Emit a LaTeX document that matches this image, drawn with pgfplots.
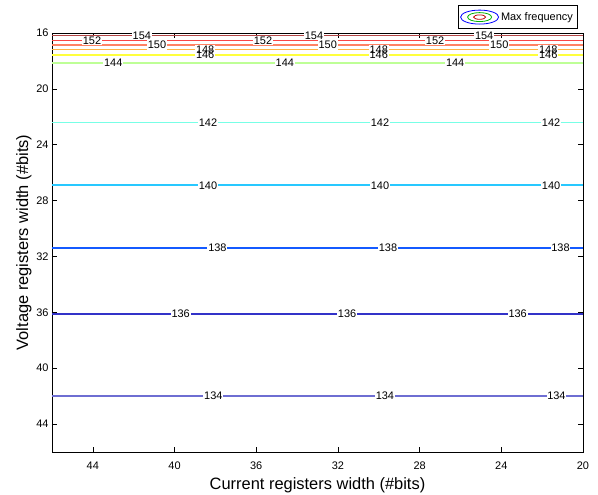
\documentclass[border=0pt]{standalone}
\usepackage{fontspec}
\setmainfont{Liberation Sans}
\usepackage{pgfplots}
\usepackage{pgfplotstable}
\pgfplotsset{compat=1.18}
\definecolor{lvA}{HTML}{6E6ED2}
\definecolor{lvB}{HTML}{3232C8}
\definecolor{lvC}{HTML}{145AFF}
\definecolor{lvD}{HTML}{28C8FF}
\definecolor{lvE}{HTML}{78FFE6}
\definecolor{lvF}{HTML}{BEFF96}
\definecolor{lvG}{HTML}{FFFF3C}
\definecolor{lvH}{HTML}{FFB446}
\definecolor{lvI}{HTML}{FF8264}
\definecolor{lvJ}{HTML}{FA4646}
\definecolor{lvK}{HTML}{B44646}
\pgfplotstableread{
x y label
38.1 42.0 134
29.7 42.0 134
21.3 42.0 134
39.7 36.1 136
31.55 36.1 136
23.2 36.1 136
37.9 31.4 138
29.55 31.4 138
21.1 31.4 138
38.36 26.9 140
29.94 26.9 140
21.56 26.9 140
38.36 22.4 142
29.94 22.4 142
21.56 22.4 142
43.0 18.14 144
34.6 18.14 144
26.26 18.14 144
38.5 17.58 146
30.0 17.58 146
21.7 17.58 146
38.5 17.2 148
30.0 17.2 148
21.7 17.2 148
40.86 16.86 150
32.5 16.86 150
24.1 16.86 150
44.04 16.53 152
35.67 16.53 152
27.24 16.53 152
41.6 16.19 154
33.17 16.19 154
24.84 16.19 154
}\labels
\begin{document}
\begin{tikzpicture}
\useasboundingbox (-52bp,-43bp) rectangle (546bp,452bp);
\begin{axis}[
  at={(0,0)}, anchor=south west,
  width=531bp, height=419bp, scale only axis,
  xmin=20, xmax=46, ymin=16, ymax=46,
  x dir=reverse, y dir=reverse,
  xtick={20,24,...,44}, ytick={16,20,...,44},
  tick align=inside, major tick length=5bp,
  tick style={black, line width=0.6bp},
  axis line style={line width=0.8bp},
  /pgf/number format/assume math mode=true,
  ticklabel style={font=\fontsize{11}{13}\selectfont},
  xticklabel style={yshift=-6bp},
  label style={font=\fontsize{16.5}{18}\selectfont},
  xlabel={Current registers width (\#bits)},
  ylabel={Voltage registers width (\#bits)},
  xlabel style={yshift=-1bp},
  ylabel style={yshift=-2bp},
]
\addplot[color=lvA, line width=1.6bp] coordinates {(20,42.0) (46,42.0)};
\addplot[color=lvB, line width=1.6bp] coordinates {(20,36.1) (46,36.1)};
\addplot[color=lvC, line width=1.6bp] coordinates {(20,31.4) (46,31.4)};
\addplot[color=lvD, line width=1.6bp] coordinates {(20,26.9) (46,26.9)};
\addplot[color=lvE, line width=1.6bp] coordinates {(20,22.4) (46,22.4)};
\addplot[color=lvF, line width=1.3bp] coordinates {(20,18.14) (46,18.14)};
\addplot[color=lvG, line width=1.3bp] coordinates {(20,17.58) (46,17.58)};
\addplot[color=lvH, line width=1.3bp] coordinates {(20,17.2) (46,17.2)};
\addplot[color=lvI, line width=1.3bp] coordinates {(20,16.86) (46,16.86)};
\addplot[color=lvJ, line width=1.3bp] coordinates {(20,16.53) (46,16.53)};
\addplot[color=lvK, line width=1.3bp] coordinates {(20,16.19) (46,16.19)};
\addplot[only marks, mark=none, nodes near coords, point meta=explicit symbolic,
  nodes near coords style={anchor=center, fill=white, text=white, inner sep=0.8bp,
  font=\fontsize{11}{13}\selectfont}] table[x=x, y=y, meta=label] {\labels};
\addplot[only marks, mark=none, nodes near coords, point meta=explicit symbolic,
  nodes near coords style={anchor=center, inner sep=0.8bp, text=black,
  font=\fontsize{11}{13}\selectfont}] table[x=x, y=y, meta=label] {\labels};
\end{axis}
\begin{axis}[
  at={(0,0)}, anchor=south west,
  width=531bp, height=419bp, scale only axis,
  xmin=0, xmax=1, ymin=0, ymax=1, hide axis,
  legend style={at={(axis description cs:0.989,1.01)}, anchor=south east,
    font=\fontsize{11}{13}\selectfont, draw=black, line width=0.6bp,
    inner xsep=2bp, inner ysep=4bp},
  legend cell align=left,
]
\addlegendimage{legend image code/.code={
  \draw[blue, line width=0.8bp] (19bp,0) ellipse [x radius=19bp, y radius=7bp];
  \draw[green!70!black, line width=0.8bp] (19bp,0) ellipse [x radius=12bp, y radius=4.5bp];
  \draw[red!75!black, line width=0.8bp] (19bp,0) ellipse [x radius=6bp, y radius=2.2bp];
}}
\addlegendentry{Max frequency}
\end{axis}
\end{tikzpicture}
\end{document}
